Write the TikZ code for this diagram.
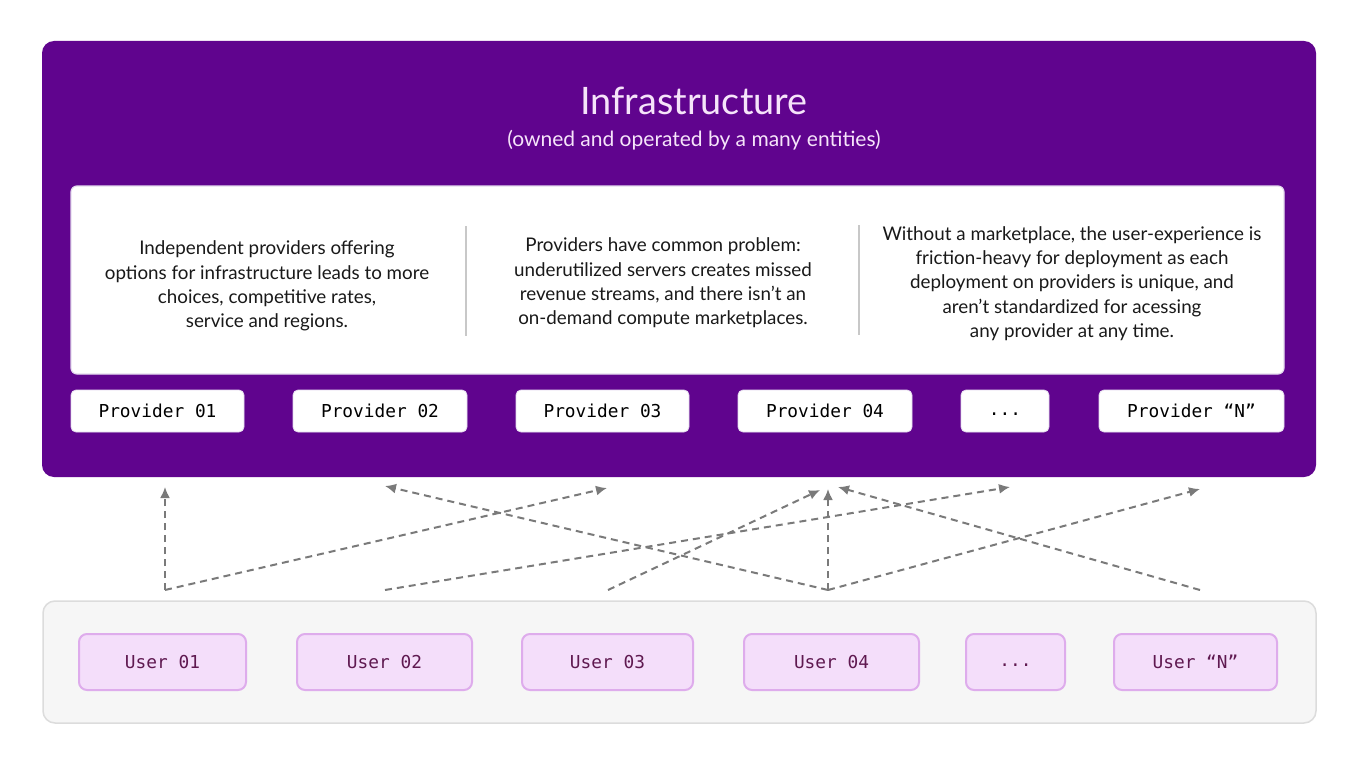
\documentclass[tikz,border=0pt]{standalone}
\usepackage{fontspec}
\setmainfont{Lato}
\setmonofont{DejaVu Sans Mono}
\usetikzlibrary{arrows.meta}
\definecolor{infrapurple}{RGB}{96,4,142}
\definecolor{titletext}{RGB}{246,228,250}
\definecolor{boxborder}{RGB}{228,218,238}
\definecolor{sepgrey}{RGB}{200,200,200}
\definecolor{userfill}{RGB}{244,222,250}
\definecolor{userborder}{RGB}{222,172,236}
\definecolor{usertext}{RGB}{95,25,80}
\definecolor{panelfill}{RGB}{246,246,246}
\definecolor{panelborder}{RGB}{220,220,220}
\definecolor{arrowgrey}{RGB}{122,122,122}
\definecolor{bodytext}{RGB}{25,25,25}
\tikzset{
  provbox/.style={draw=boxborder, line width=0.8pt, fill=white, rounded corners=5pt, minimum height=42pt, inner sep=0pt,
    font=\fontsize{17.8}{20}\ttfamily, text=black},
  userbox/.style={draw=userborder, line width=2pt, fill=userfill, rounded corners=8pt, minimum height=56pt, inner sep=0pt,
    font=\fontsize{17.8}{20}\ttfamily, text=usertext},
  coltext/.style={align=center, font=\fontsize{18.8}{24.4}\selectfont, text=bodytext, inner sep=0pt},
  flow/.style={draw=arrowgrey, line width=2pt, dash pattern=on 7pt off 5pt, -{Latex[length=11pt,width=10pt]}},
  seprule/.style={draw=sepgrey, line width=1.2pt}
}
\begin{document}
\begin{tikzpicture}[x=1pt,y=-1pt]
\useasboundingbox[fill=white] (0,0) rectangle (1358,768);
% infrastructure panel
\node[fill=infrapurple, rounded corners=12pt, minimum width=1274pt, minimum height=436pt, inner sep=0pt] (infra) at (679,259) {};
\node[text=titletext, font=\fontsize{37.8}{40}\selectfont, inner sep=0pt] (title) at (694,101) {Infrastructure};
\node[text=titletext, font=\fontsize{21}{24}\selectfont, inner sep=0pt] (subtitle) at (694,140) {(owned and operated by a many entities)};
% description box
\node[draw=boxborder, line width=1.2pt, fill=white, rounded corners=6pt, minimum width=1213pt, minimum height=188pt, inner sep=0pt] (desc) at (677.5,280) {};
\node[coltext] (col1) at (267,286) {Independent providers offering\\options for infrastructure leads to more\\choices, competitive rates,\\service and regions.};
\node[coltext] (col2) at (663,283) {Providers have common problem:\\underutilized servers creates missed\\revenue streams, and there isn’t an\\on-demand compute marketplaces.};
\node[coltext] (col3) at (1072,283.5) {Without a marketplace, the user-experience is\\friction-heavy for deployment as each\\deployment on providers is unique, and\\aren’t standardized for acessing\\any provider at any time.};
\coordinate (sepa1) at (466,226); \coordinate (sepa2) at (466,336);
\coordinate (sepb1) at (859,225); \coordinate (sepb2) at (859,335);
\path[seprule] (sepa1) -- (sepa2);
\path[seprule] (sepb1) -- (sepb2);
% providers
\node[provbox, minimum width=173pt] (p1) at (157.5,411) {Provider 01};
\node[provbox, minimum width=174pt] (p2) at (380,411) {Provider 02};
\node[provbox, minimum width=173pt] (p3) at (602.5,411) {Provider 03};
\node[provbox, minimum width=174pt] (p4) at (825,411) {Provider 04};
\node[provbox, minimum width=88pt] (p5) at (1005,411) {\vphantom{Pp}.{}.{}.};
\node[provbox, minimum width=185pt] (p6) at (1191.5,411) {Provider “N”};
% users panel
\node[draw=panelborder, line width=1.5pt, fill=panelfill, rounded corners=12pt, minimum width=1273pt, minimum height=122pt, inner sep=0pt] (users) at (679.5,662) {};
\node[userbox, minimum width=167pt] (u1) at (162.5,662) {User 01};
\node[userbox, minimum width=175pt] (u2) at (384.5,662) {User 02};
\node[userbox, minimum width=171pt] (u3) at (607.5,662) {User 03};
\node[userbox, minimum width=175pt] (u4) at (831.5,662) {User 04};
\node[userbox, minimum width=99pt] (u5) at (1015.5,662) {\vphantom{Up}.{}.{}.};
\node[userbox, minimum width=163pt] (u6) at (1195.5,662) {User “N”};
% connector ends
\coordinate (s1) at (165,590);
\coordinate (s2) at (385,590);
\coordinate (s3) at (608,590);
\coordinate (s4) at (828,590);
\coordinate (s5) at (1200,590);
\coordinate (t1) at (165,487);
\coordinate (t2) at (385,486);
\coordinate (t3) at (607,488);
\coordinate (t4) at (820,490);
\coordinate (t5) at (828,489);
\coordinate (t6) at (838,487);
\coordinate (t7) at (1010,487);
\coordinate (t8) at (1200,489);
\draw[flow] (s1) -- (t1);
\draw[flow] (s1) -- (t3);
\draw[flow] (s2) -- (t7);
\draw[flow] (s3) -- (t4);
\draw[flow] (s4) -- (t5);
\draw[flow] (s4) -- (t2);
\draw[flow] (s4) -- (t8);
\draw[flow] (s5) -- (t6);
\end{tikzpicture}
\end{document}
